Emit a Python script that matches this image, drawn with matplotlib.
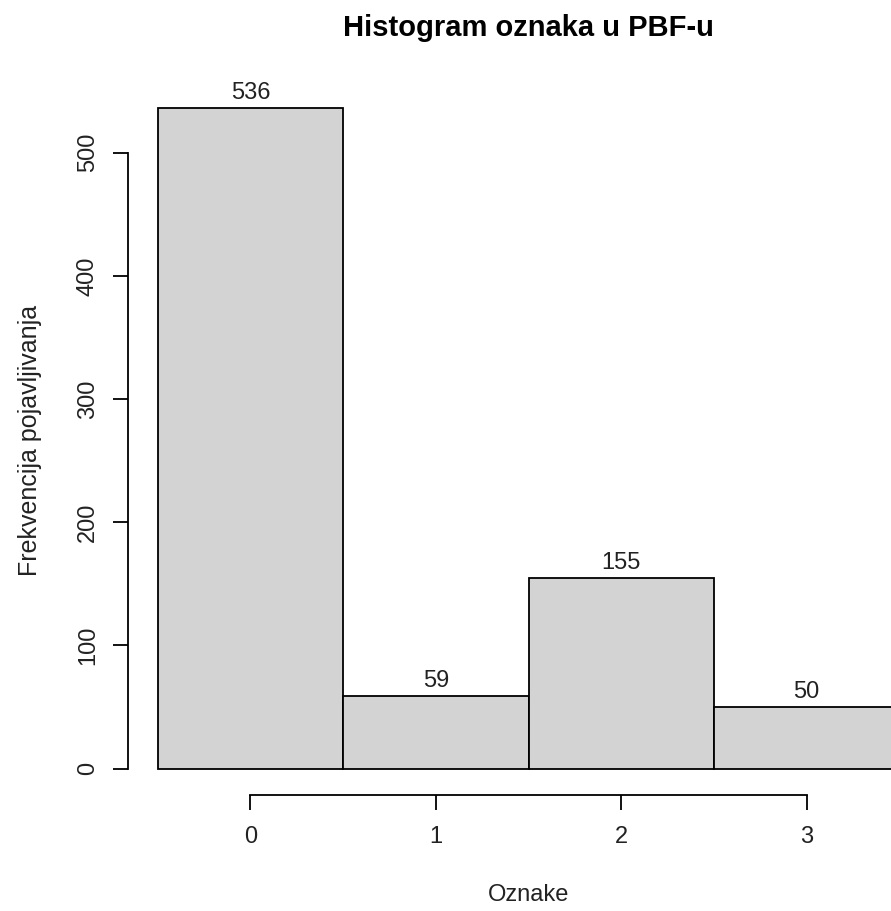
import numpy as np
import matplotlib.pyplot as plt

plt.rcParams['font.family'] = ['Liberation Sans', 'DejaVu Sans']

# histogram data
oznake = [0, 1, 2, 3]
frekvencije = [536, 59, 155, 50]

W, H = 891, 911
fig = plt.figure(figsize=(W / 100, H / 100), dpi=100)
# plot region runs past the right edge of the picture, like the reference
ax = fig.add_axes([128 / W, (H - 795) / H, 801 / W, (795 - 82) / H])

ax.bar(oznake, frekvencije, width=1.0, color='#d3d3d3', edgecolor='black',
       linewidth=1.3, align='center')
for x, v in zip(oznake, frekvencije):
    ax.annotate(str(v), (x, v), xytext=(0, 6.5), textcoords='offset points',
                ha='center', va='baseline', fontsize=17, color='#222222')

ax.set_xlim(-0.66, 3.66)
ax.set_ylim(-0.04 * 536, 1.04 * 536)

ax.spines['top'].set_visible(False)
ax.spines['right'].set_visible(False)
ax.spines['left'].set_bounds(0, 500)
ax.spines['bottom'].set_bounds(0, 3)
for s in ['left', 'bottom']:
    ax.spines[s].set_linewidth(1.3)

ax.set_xticks(oznake)
ax.set_yticks([0, 100, 200, 300, 400, 500])
ax.tick_params(direction='out', length=11, width=1.3, labelsize=17, color='black',
               labelcolor='#222222')
ax.tick_params(axis='x', pad=11)
ax.tick_params(axis='y', pad=10)
for lab in ax.get_yticklabels():
    lab.set_rotation(90)
    lab.set_va('center')

cx = (128 + 929) / 2 / W
fig.text(cx, 1 - 36 / H, 'Histogram oznaka u PBF-u', ha='center', va='baseline',
         fontsize=21, fontweight='bold')
fig.text(cx, 1 - 895 / H, 'Oznake', ha='center', va='center', fontsize=17,
         color='#222222')
fig.text(30 / W, 1 - 440 / H, 'Frekvencija pojavljivanja', ha='center', va='center',
         rotation=90, fontsize=18, color='#222222')

fig.savefig('out.png', dpi=100)
